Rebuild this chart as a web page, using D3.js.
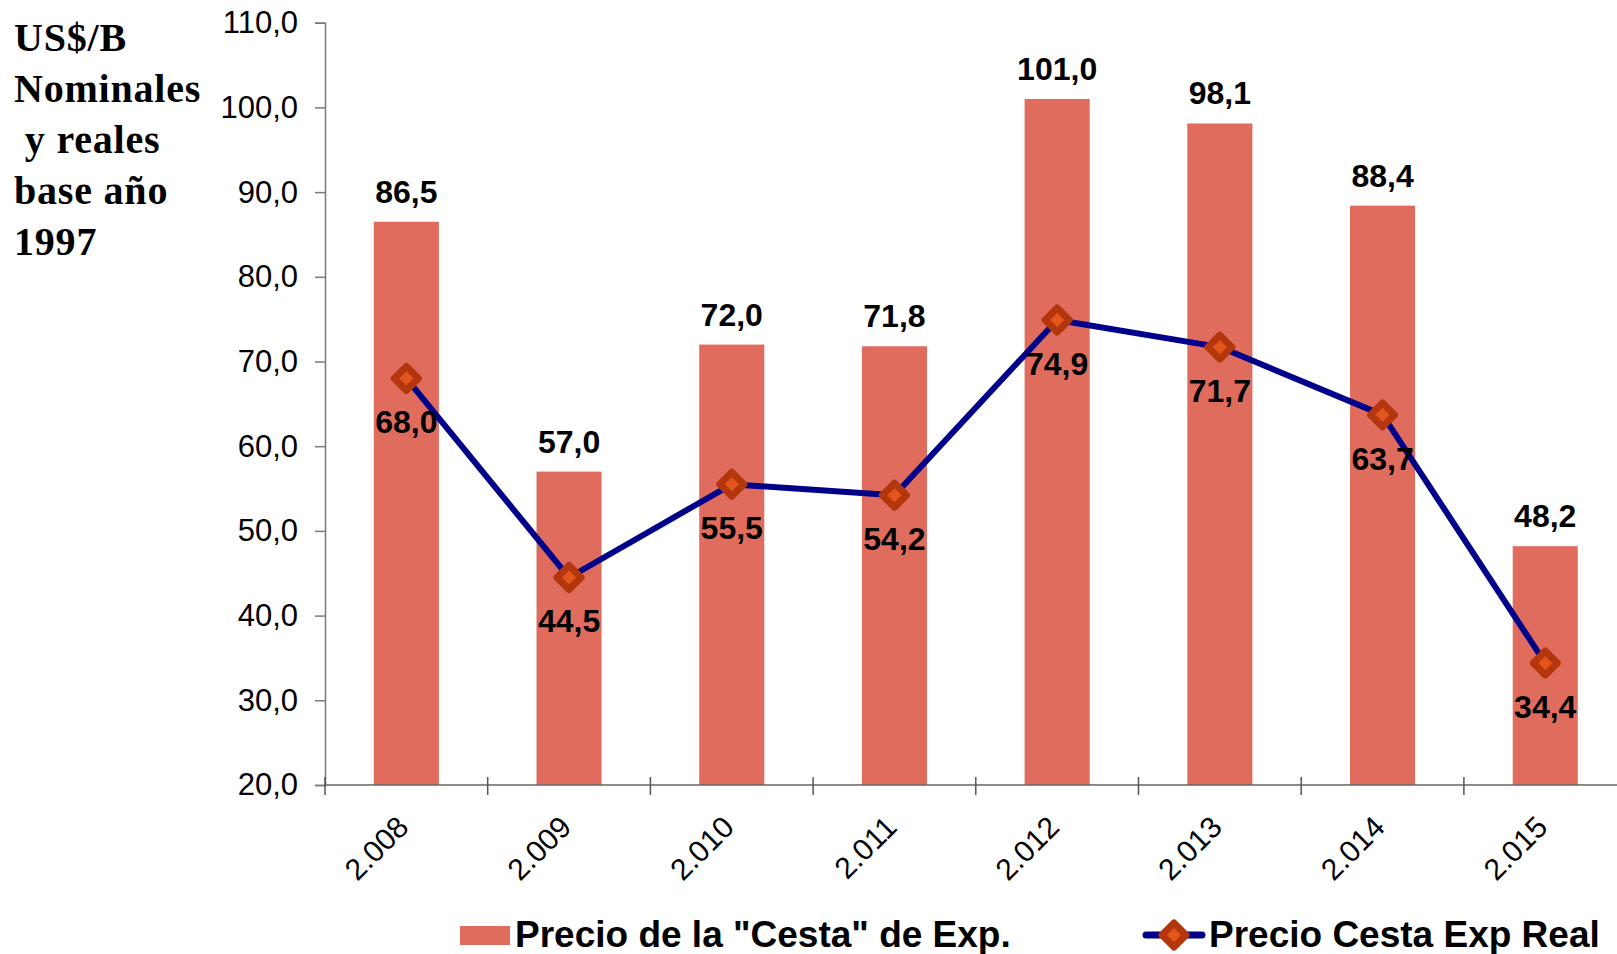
<!DOCTYPE html>
<html>
<head>
<meta charset="utf-8">
<script src="https://cdn.jsdelivr.net/npm/d3@7"></script>
<style>
  body { margin: 0; background: #fff; }
  svg { display: block; }
</style>
</head>
<body>
<div id="chart-container"></div>
<script>
// Precio de la cesta de exportación, nominal vs real (base 1997)
const years = ["2.008", "2.009", "2.010", "2.011", "2.012", "2.013", "2.014", "2.015"];
const nominal = [86.5, 57.0, 72.0, 71.8, 101.0, 98.1, 88.4, 48.2];
const real = [68.0, 44.5, 55.5, 54.2, 74.9, 71.7, 63.7, 34.4];
const yTicks = [20, 30, 40, 50, 60, 70, 80, 90, 100, 110];
const titleLines = ["US$/B", "Nominales", " y reales", "base año", "1997"];
const legendLabels = ["Precio de la \"Cesta\" de Exp.", "Precio Cesta Exp Real"];

const W = 1617, H = 954;
const fmt = v => v.toFixed(1).replace(".", ",");

const svg = d3.select("#chart-container").append("svg")
    .attr("width", W)
    .attr("height", H);

// plot area runs past the right edge, like the original
const x = d3.scaleBand()
    .domain(years)
    .range([325, 325 + 8 * 162.7]);

const y = d3.scaleLinear()
    .domain([20, 110])
    .range([785, 22.7]);

const barW = x.bandwidth() * 0.4;

// bars
svg.selectAll(".bar")
    .data(nominal)
    .enter().append("rect")
    .attr("class", "bar")
    .attr("x", (d, i) => x(years[i]) + x.bandwidth() / 2 - barW / 2)
    .attr("y", d => y(d))
    .attr("width", barW)
    .attr("height", d => y(20) - y(d))
    .attr("fill", "#e06c5e");

// y axis
const yAxis = svg.append("g")
    .attr("transform", "translate(325,0)")
    .call(d3.axisLeft(y).tickValues(yTicks).tickSize(10).tickPadding(17).tickFormat(fmt));
yAxis.select(".domain").attr("stroke", "#7a7a7a").attr("stroke-width", 1.5);
yAxis.selectAll(".tick line").attr("stroke", "#7a7a7a").attr("stroke-width", 1.5);
yAxis.selectAll("text")
    .style("font-family", "Arial, 'Liberation Sans', sans-serif")
    .style("font-size", "31px")
    .attr("fill", "#000");

// x axis: ticks on category boundaries, crossing the line
const xAxisG = svg.append("g");
xAxisG.append("line")
    .attr("x1", 325).attr("x2", W)
    .attr("y1", y(20)).attr("y2", y(20))
    .attr("stroke", "#666").attr("stroke-width", 1.5);
xAxisG.selectAll(".xtick")
    .data(years)
    .enter().append("line")
    .attr("x1", d => x(d)).attr("x2", d => x(d))
    .attr("y1", y(20) - 8).attr("y2", y(20) + 10)
    .attr("stroke", "#555").attr("stroke-width", 1.5);
xAxisG.selectAll(".xlabel")
    .data(years)
    .enter().append("text")
    .attr("text-anchor", "end")
    .attr("transform", d => `translate(${x(d) + x.bandwidth() / 2 + 4},${y(20) + 44}) rotate(-45)`)
    .style("font-family", "Arial, 'Liberation Sans', sans-serif")
    .style("font-size", "30px")
    .text(d => d);

// bar value labels
svg.selectAll(".barlabel")
    .data(nominal)
    .enter().append("text")
    .attr("text-anchor", "middle")
    .attr("x", (d, i) => x(years[i]) + x.bandwidth() / 2)
    .attr("y", d => y(d) - 19)
    .style("font-family", "Arial, 'Liberation Sans', sans-serif")
    .style("font-size", "32px")
    .style("font-weight", "bold")
    .text(fmt);

// real price line
const line = d3.line()
    .x((d, i) => x(years[i]) + x.bandwidth() / 2)
    .y(d => y(d));

svg.append("path")
    .datum(real)
    .attr("fill", "none")
    .attr("stroke", "#00008b")
    .attr("stroke-width", 6)
    .attr("stroke-linejoin", "round")
    .attr("d", line);

const diamond = "M0,-12L12,0L0,12L-12,0Z";
svg.selectAll(".marker")
    .data(real)
    .enter().append("path")
    .attr("class", "marker")
    .attr("transform", (d, i) => `translate(${x(years[i]) + x.bandwidth() / 2},${y(d)})`)
    .attr("d", diamond)
    .attr("fill", "#e2561e")
    .attr("stroke", "#b3360c")
    .attr("stroke-width", 7)
    .attr("stroke-linejoin", "round");

svg.selectAll(".linelabel")
    .data(real)
    .enter().append("text")
    .attr("text-anchor", "middle")
    .attr("x", (d, i) => x(years[i]) + x.bandwidth() / 2)
    .attr("y", d => y(d) + 55)
    .style("font-family", "Arial, 'Liberation Sans', sans-serif")
    .style("font-size", "32px")
    .style("font-weight", "bold")
    .text(fmt);

// axis title
svg.append("text")
    .style("font-family", "'Liberation Serif', 'Times New Roman', serif")
    .style("font-size", "40px")
    .style("font-weight", "bold")
    .style("letter-spacing", "0.8px")
    .style("white-space", "pre")
    .selectAll("tspan")
    .data(titleLines)
    .enter().append("tspan")
    .attr("x", 14)
    .attr("y", (d, i) => 50.5 + i * 51)
    .text(d => d);

// legend
const leg = svg.append("g");
leg.append("rect")
    .attr("x", 460).attr("y", 926)
    .attr("width", 50).attr("height", 19)
    .attr("fill", "#e06c5e");
leg.append("text")
    .attr("x", 515).attr("y", 947)
    .style("font-family", "Arial, 'Liberation Sans', sans-serif")
    .style("font-size", "37px")
    .style("font-weight", "bold")
    .text(legendLabels[0]);

leg.append("line")
    .attr("x1", 1146).attr("x2", 1202)
    .attr("y1", 935).attr("y2", 935)
    .attr("stroke", "#00008b")
    .attr("stroke-width", 7)
    .attr("stroke-linecap", "round");
leg.append("path")
    .attr("transform", "translate(1174,935)")
    .attr("d", diamond)
    .attr("fill", "#e2561e")
    .attr("stroke", "#b3360c")
    .attr("stroke-width", 7)
    .attr("stroke-linejoin", "round");
leg.append("text")
    .attr("x", 1209).attr("y", 947)
    .style("font-family", "Arial, 'Liberation Sans', sans-serif")
    .style("font-size", "37px")
    .style("font-weight", "bold")
    .text(legendLabels[1]);
</script>
</body>
</html>
